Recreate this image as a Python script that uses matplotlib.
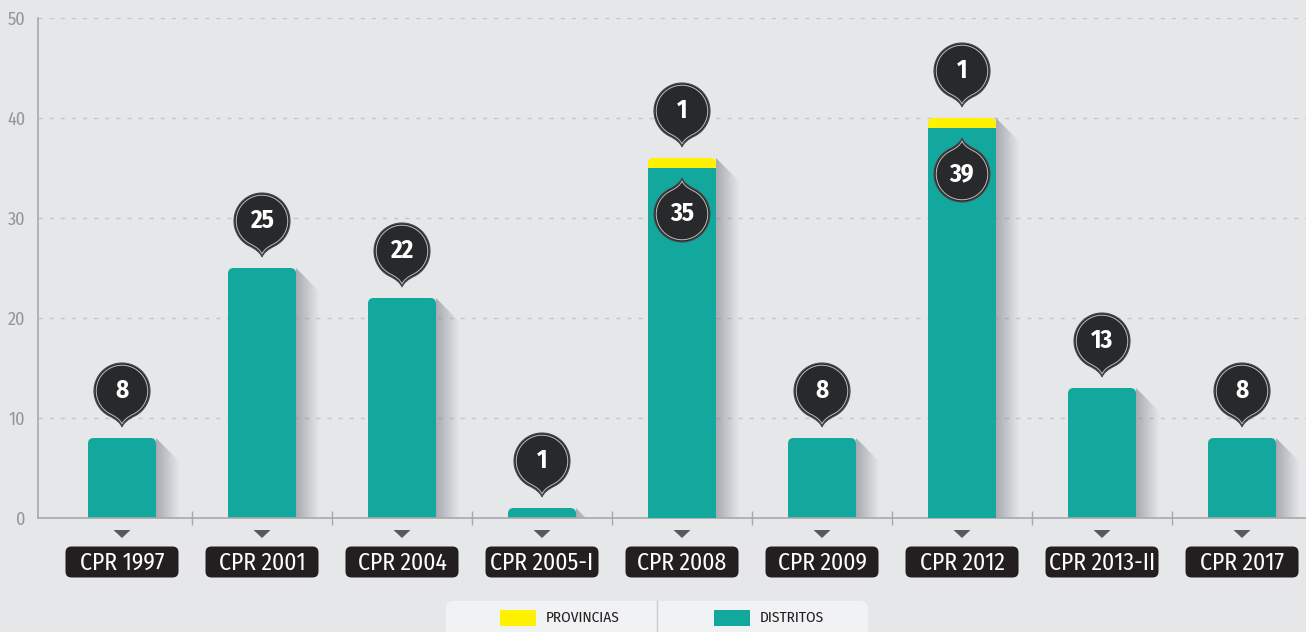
import numpy as np
import matplotlib
matplotlib.use('Agg')
import matplotlib.pyplot as plt
from matplotlib.patches import FancyBboxPatch, Polygon, PathPatch, Rectangle
from matplotlib.path import Path
from matplotlib import transforms

# Datos
categorias = ['CPR 1997', 'CPR 2001', 'CPR 2004', 'CPR 2005-I', 'CPR 2008',
              'CPR 2009', 'CPR 2012', 'CPR 2013-II', 'CPR 2017']
distritos = [8, 25, 22, 1, 35, 8, 39, 13, 8]
provincias = [0, 0, 0, 0, 1, 0, 1, 0, 0]
leyenda = ['PROVINCIAS', 'DISTRITOS']
yticks = [0, 10, 20, 30, 40, 50]

BG = '#e6e7e9'
TEAL = '#13a89e'
YELLOW = '#fff200'
DARK = '#27292b'

plt.rcParams['font.family'] = ['Fira Sans Condensed', 'Asap Condensed', 'DejaVu Sans']

fig = plt.figure(figsize=(13.06, 6.32), dpi=100, facecolor=BG)
ax = fig.add_axes([38 / 1306, 114 / 632, 1 - 38 / 1306, 500 / 632])
ax.set_facecolor(BG)


def px(x, y, base):
    # coordenadas en pixeles alrededor de un punto (x, y) de "base"
    return transforms.Affine2D() + transforms.ScaledTranslation(x, y, base)


def pin_path(up=False, r=28.0, tip=36.0, scale=1.0):
    ang = np.linspace(np.deg2rad(-62), np.deg2rad(242), 80)
    pts = [(r * np.cos(t), r * np.sin(t)) for t in ang]
    start = pts[0]
    verts = pts + [(-2.0, -30.0), (0, -tip), (2.0, -30.0), start, start]
    codes = [Path.MOVETO] + [Path.LINETO] * (len(pts) - 1) + \
        [Path.CURVE3, Path.CURVE3, Path.CURVE3, Path.CURVE3, Path.CLOSEPOLY]
    v = np.array(verts) * scale
    if up:
        v[:, 1] *= -1
    return Path(v, codes)


def draw_pin(x, y, valor, up=False):
    dy = -46 if up else 47
    base = transforms.Affine2D().translate(0, dy) + px(x, y, ax.transData)
    ax.add_patch(PathPatch(pin_path(up), facecolor=DARK, edgecolor='#4a4b4d',
                           lw=0.8, transform=base, zorder=6, clip_on=False))
    ax.add_patch(PathPatch(pin_path(up, scale=0.92), facecolor='none',
                           edgecolor='#bcbec0', lw=0.7, transform=base,
                           zorder=7, clip_on=False))
    ax.text(0, 0, str(valor), transform=base, ha='center', va='center',
            color='white', fontsize=18, fontweight='bold', zorder=8)


# rejilla
for v in yticks[1:]:
    ax.axhline(v, color='#c4c5c8', lw=1, ls=(0, (3, 5)), zorder=0)

x = np.arange(len(categorias))
w = 68 / 140
asp = 14
bt = transforms.blended_transform_factory(ax.transData, fig.transFigure)

for i in x:
    total = distritos[i] + provincias[i]
    r = i + w / 2
    # sombra
    sw, sd = 0.17, 2.4
    if total >= sd:
        verts = [(r, total), (r + sw, total - sd), (r + sw, 0), (r, 0)]
    else:
        verts = [(r, total), (r + sw * total / sd, 0), (r, 0)]
    clip = Polygon(verts, closed=True, transform=ax.transData,
                   facecolor='none', edgecolor='none')
    grad = np.zeros((2, 64, 4))
    grad[..., 0] = 0.50
    grad[..., 1] = 0.51
    grad[..., 2] = 0.55
    grad[..., 3] = np.linspace(0.6, 0.0, 64)[None, :]
    im = ax.imshow(grad, extent=[r, r + sw, 0, total], aspect='auto',
                   zorder=1, interpolation='bilinear')
    im.set_clip_path(clip)

    if provincias[i] > 0:
        ax.add_patch(FancyBboxPatch((i - w / 2, -2), w, total + 2,
                                    boxstyle='round,pad=0,rounding_size=0.04',
                                    mutation_aspect=asp, facecolor=YELLOW,
                                    edgecolor='none', zorder=2))
        ax.add_patch(Rectangle((i - w / 2, 0), w, distritos[i],
                               facecolor=TEAL, edgecolor='none', zorder=3))
        draw_pin(i, total, provincias[i])
        draw_pin(i, distritos[i], distritos[i], up=True)
    else:
        ax.add_patch(FancyBboxPatch((i - w / 2, -2), w, total + 2,
                                    boxstyle='round,pad=0,rounding_size=0.04',
                                    mutation_aspect=asp, facecolor=TEAL,
                                    edgecolor='none', zorder=2))
        draw_pin(i, total, distritos[i])

    # etiqueta de categoria
    tri = px(i, 98 / 632, bt)
    fig.add_artist(Polygon([(-8.5, 4), (8.5, 4), (0, -4)], closed=True,
                           facecolor='#58595b', edgecolor='none', transform=tri))
    lab = px(i, 70 / 632, bt)
    fig.add_artist(FancyBboxPatch((-56.5, -15.5), 113, 31,
                                  boxstyle='round,pad=0,rounding_size=6',
                                  facecolor='#231f20', edgecolor='none',
                                  transform=lab))
    fig.text(0, -1, categorias[i], transform=lab, ha='center', va='center',
             color='white', fontsize=17)

ax.set_xlim(-0.6, 8.457)
ax.set_ylim(0, 50)
ax.set_yticks(yticks)
ax.set_xticks([])
ax.set_xticks(x[:-1] + 0.5, minor=True)
ax.tick_params(axis='y', length=0, pad=9, labelsize=13, labelcolor='#939598')
ax.tick_params(axis='x', which='minor', direction='inout', length=10,
               color='#a7a9ac', width=1)
for s in ['top', 'right']:
    ax.spines[s].set_visible(False)
for s in ['left', 'bottom']:
    ax.spines[s].set_color('#a7a9ac')
    ax.spines[s].set_linewidth(1.2)

# leyenda
ident = transforms.IdentityTransform()
fig.add_artist(FancyBboxPatch((446, -10), 422, 41,
                              boxstyle='round,pad=0,rounding_size=7',
                              facecolor='#f1f2f4', edgecolor='none',
                              transform=ident))
fig.add_artist(plt.Line2D([657, 657], [0, 31], color='#c9cacc', lw=1,
                          transform=ident))
for xp, col, txt in zip([500, 714], [YELLOW, TEAL], leyenda):
    fig.add_artist(Rectangle((xp, 6), 36, 16, facecolor=col, edgecolor='none',
                             transform=ident))
    fig.text(xp + 46, 14, txt, transform=ident, ha='left', va='center',
             color='#231f20', fontsize=11)

fig.savefig('out.png', dpi=100, facecolor=BG)
